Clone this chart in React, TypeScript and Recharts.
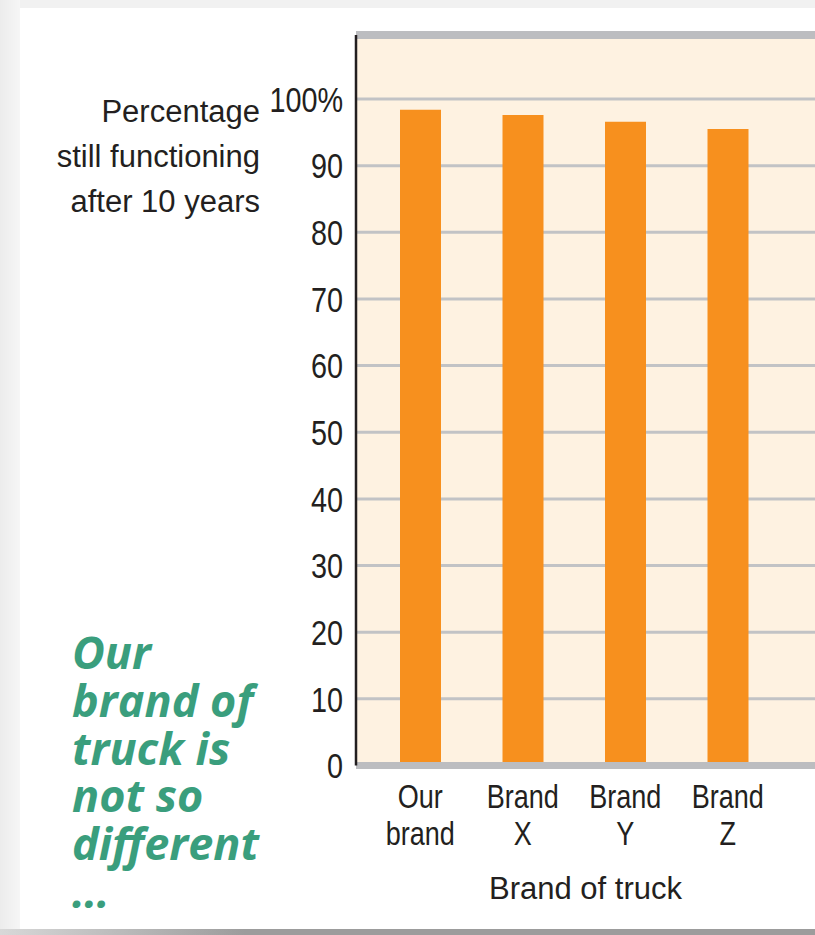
import React from 'react';
import { BarChart, Bar, XAxis, YAxis, CartesianGrid, ReferenceLine } from 'recharts';

const categories = ['Our brand', 'Brand X', 'Brand Y', 'Brand Z'];
const categoryLines: string[][] = [
  ['Our', 'brand'],
  ['Brand', 'X'],
  ['Brand', 'Y'],
  ['Brand', 'Z'],
];
const percentFunctioning = [98.4, 97.6, 96.6, 95.5];
const yTicks = [0, 10, 20, 30, 40, 50, 60, 70, 80, 90, 100];
const yTitleLines = ['Percentage', 'still functioning', 'after 10 years'];
const noteLines = ['Our', 'brand of', 'truck is', 'not so', 'different', '…'];
const xTitle = 'Brand of truck';
const yMax = 109.6;

const data = categories.map((c, i) => ({ name: c, value: percentFunctioning[i] }));

const TEXT = '#231F20';
const GRID = '#C2C3C5';
const BAND = '#BCBDC0';
const ORANGE = '#F7901E';
const CREAM = '#FEF2E1';
const GREEN = '#3A9E7D';
const NARROW = "'Liberation Sans', Arial, sans-serif";

const XTick = (props: any) => {
  const { x, y, payload } = props;
  const idx = categories.indexOf(payload.value);
  const lines = categoryLines[idx] || [payload.value];
  return (
    <g transform={`translate(${x},${y}) scale(0.82,1)`}>
      <text x={0} y={0} textAnchor="middle" fill={TEXT} fontFamily={NARROW} fontSize={33}>
        <tspan x={0} dy={42.5}>{lines[0]}</tspan>
        <tspan x={0} dy={37}>{lines[1]}</tspan>
      </text>
    </g>
  );
};

const YTick = (props: any) => {
  const { x, y, payload } = props;
  const label = payload.value === 100 ? '100%' : String(payload.value);
  return (
    <g transform={`translate(${x},${y}) scale(0.8,1)`}>
      <text x={0} y={0} dy="0.355em" textAnchor="end" fill={TEXT} fontFamily={NARROW} fontSize={36}>
        {label}
      </text>
    </g>
  );
};

export default function App() {
  return (
    <div style={{ position: 'absolute', left: 0, top: 0, width: 815, height: 935, background: '#F1F1F1', overflow: 'hidden' }}>
      <div style={{ position: 'absolute', left: 0, top: 0, width: 20, height: 935, background: 'linear-gradient(to right, #ECECEC, #F6F6F6)' }} />
      <div style={{ position: 'absolute', left: 0, top: 929, width: 815, height: 6, background: 'linear-gradient(to right, #D8D8D8, #9C9C9C 30%, #9C9C9C)' }} />
      <div style={{ position: 'absolute', left: 20, top: 8, width: 795, height: 921, background: '#FFFFFF' }} />
      <div style={{ position: 'absolute', left: 0, top: 0 }}>
        <BarChart
          width={815}
          height={935}
          data={data}
          margin={{ top: 35, right: 0, left: 0, bottom: 29.5 }}
        >
          <CartesianGrid
            vertical={false}
            horizontal={true}
            fill={CREAM}
            fillOpacity={1}
            stroke={GRID}
            strokeWidth={3}
            horizontalValues={yTicks.filter((t) => t > 0)}
          />
          <XAxis
            dataKey="name"
            type="category"
            height={140}
            padding={{ left: 13, right: 36 }}
            axisLine={false}
            tickLine={false}
            tickSize={0}
            tickMargin={0}
            interval={0}
            tick={<XTick />}
            label={{
              value: xTitle,
              position: 'insideBottom',
              offset: 7,
              fill: TEXT,
              fontSize: 31,
              fontFamily: "'Liberation Sans', sans-serif",
            }}
          />
          <YAxis
            type="number"
            domain={[0, yMax]}
            ticks={yTicks}
            width={356}
            axisLine={{ stroke: TEXT, strokeWidth: 2.5 }}
            tickLine={false}
            tickSize={0}
            tickMargin={13}
            interval={0}
            tick={<YTick />}
          />
          <Bar dataKey="value" fill={ORANGE} barSize={41} isAnimationActive={false} />
          <ReferenceLine y={0} stroke={BAND} strokeWidth={7} ifOverflow="visible" />
          <ReferenceLine y={yMax} stroke={BAND} strokeWidth={8} ifOverflow="visible" />
        </BarChart>
      </div>
      <svg width={815} height={935} style={{ position: 'absolute', left: 0, top: 0, pointerEvents: 'none' }}>
        <text fontFamily="'Liberation Sans', sans-serif" fontSize={31} fill={TEXT} textAnchor="end">
          {yTitleLines.map((l, i) => (
            <tspan key={l} x={260} y={122 + i * 45}>{l}</tspan>
          ))}
        </text>
        <text fontFamily="'Open Sans', sans-serif" fontSize={45} fontWeight={700} fontStyle="italic" fill={GREEN}>
          {noteLines.map((l, i) => (
            <tspan key={i} x={72} y={669 + i * 47.8}>{l}</tspan>
          ))}
        </text>
      </svg>
    </div>
  );
}
